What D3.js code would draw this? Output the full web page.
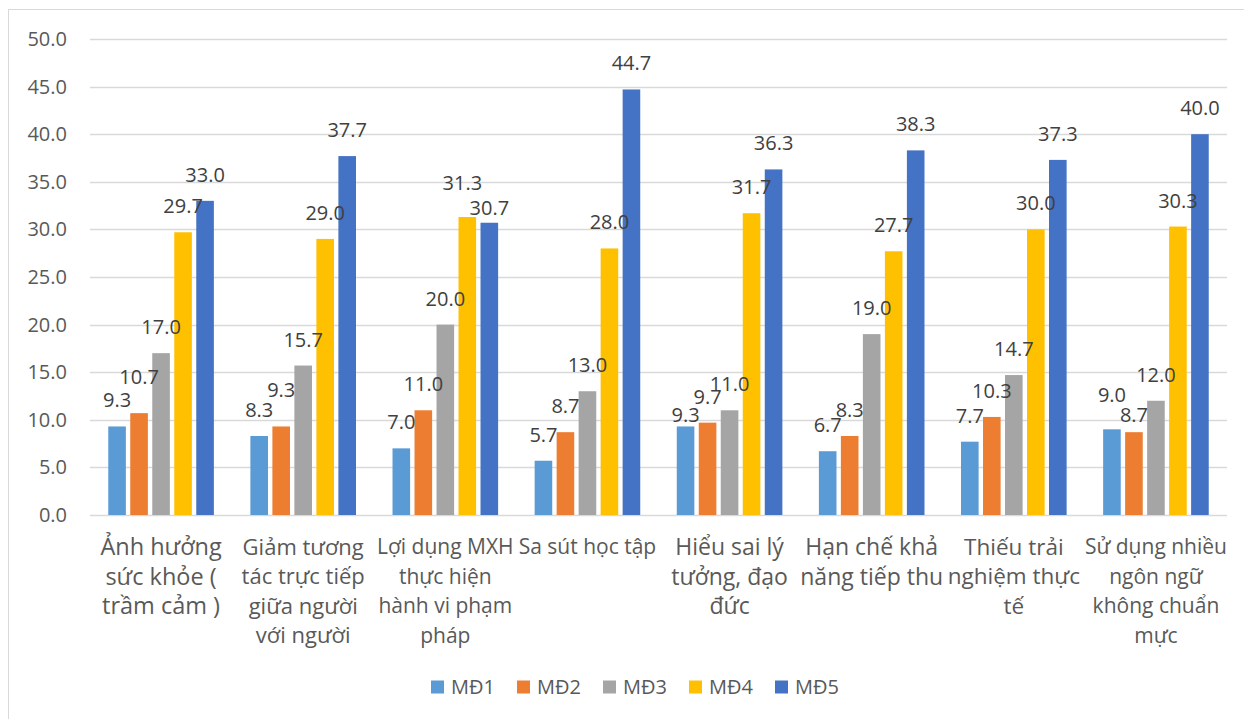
<!DOCTYPE html>
<html>
<head>
<meta charset="utf-8">
<script src="https://cdn.jsdelivr.net/npm/d3@7/dist/d3.min.js"></script>
<style>
  html, body { margin: 0; padding: 0; background: #fff; }
  svg { display: block; font-family: "Open Sans", "Noto Sans", sans-serif; }
</style>
</head>
<body>
<svg id="chart" width="1244" height="719"></svg>
<script>
// Category labels, already broken into the lines they are shown on
const categories = [
  ["Ảnh hưởng", "sức khỏe (", "trầm cảm )"],
  ["Giảm tương", "tác trực tiếp", "giữa người", "với người"],
  ["Lợi dụng MXH", "thực hiện", "hành vi phạm", "pháp"],
  ["Sa sút học tập"],
  ["Hiểu sai lý", "tưởng, đạo", "đức"],
  ["Hạn chế khả", "năng tiếp thu"],
  ["Thiếu trải", "nghiệm thực", "tế"],
  ["Sử dụng nhiều", "ngôn ngữ", "không chuẩn", "mực"]
];

const seriesNames = ["MĐ1", "MĐ2", "MĐ3", "MĐ4", "MĐ5"];
const seriesColors = ["#5b9bd5", "#ed7d31", "#a5a5a5", "#ffc000", "#4472c4"];

const md1 = [9.3, 8.3, 7.0, 5.7, 9.3, 6.7, 7.7, 9.0];
const md2 = [10.7, 9.3, 11.0, 8.7, 9.7, 8.3, 10.3, 8.7];
const md3 = [17.0, 15.7, 20.0, 13.0, 11.0, 19.0, 14.7, 12.0];
const md4 = [29.7, 29.0, 31.3, 28.0, 31.7, 27.7, 30.0, 30.3];
const md5 = [33.0, 37.7, 30.7, 44.7, 36.3, 38.3, 37.3, 40.0];

const yTicks = [0, 5, 10, 15, 20, 25, 30, 35, 40, 45, 50];

const seriesValues = [md1, md2, md3, md4, md5];

// value labels sit 26px above their bar; a few were dragged to stop them colliding
// key: "category,series" -> [dx, distance above bar top]
const labelNudge = {
  "0,1": [0, 36],
  "1,1": [0, 36],
  "2,3": [-5, 34],
  "2,4": [0, 15],
  "4,0": [0, 11],
  "7,0": [0, 34],
  "7,1": [0, 17]
};

// category label text sizes (px); some labels were set a little larger
const catFontSize = [23.5, 22, 21, 21, 23, 23, 22.5, 21];

const svg = d3.select("#chart");
const plot = { left: 90, right: 1227, top: 39, bottom: 515 };
const fontNum = "20px";

// chart area border
svg.append("rect")
  .attr("x", 8.5).attr("y", 9.5)
  .attr("width", 1240).attr("height", 720)
  .attr("fill", "none").attr("stroke", "#d9d9d9").attr("stroke-width", 1);

const catIdx = d3.range(categories.length);
const x0 = d3.scaleBand().domain(catIdx).range([plot.left, plot.right]).padding(0);
const x1 = d3.scaleBand().domain(d3.range(seriesNames.length)).range([-52.8, 52.8]).paddingInner(0.2);
const y = d3.scaleLinear().domain([0, 50]).range([plot.bottom, plot.top]);

// horizontal gridlines
svg.append("g")
  .selectAll("line")
  .data(yTicks)
  .join("line")
  .attr("x1", plot.left).attr("x2", plot.right)
  .attr("y1", d => Math.round(y(d)) + 0.5).attr("y2", d => Math.round(y(d)) + 0.5)
  .attr("stroke", "#d9d9d9").attr("stroke-width", 1.3);

// y axis tick labels
const yAxis = d3.axisLeft(y).tickValues(yTicks).tickFormat(d3.format(".1f")).tickSize(0).tickPadding(23);
const yg = svg.append("g").attr("transform", `translate(${plot.left},0)`).call(yAxis);
yg.select(".domain").remove();
yg.selectAll("text").attr("fill", "#595959").style("font-size", fontNum)
  .style("font-family", "'Open Sans', 'Noto Sans', sans-serif");

// bars and value labels
const groups = svg.append("g")
  .selectAll("g")
  .data(catIdx)
  .join("g")
  .attr("transform", i => `translate(${x0(i) + x0.bandwidth() / 2},0)`);

seriesValues.forEach((vals, s) => {
  groups.append("rect")
    .attr("x", x1(s))
    .attr("width", x1.bandwidth())
    .attr("y", i => y(vals[i]))
    .attr("height", i => y(0) - y(vals[i]))
    .attr("fill", seriesColors[s]);
});

seriesValues.forEach((vals, s) => {
  const nudge = i => labelNudge[`${i},${s}`] || [0, 26];
  groups.append("text")
    .attr("x", i => x1(s) + x1.bandwidth() / 2 + nudge(i)[0])
    .attr("y", i => y(vals[i]) - nudge(i)[1])
    .attr("dy", "0.35em")
    .attr("text-anchor", "middle")
    .attr("fill", "#404040")
    .style("font-size", fontNum)
    .text(i => d3.format(".1f")(vals[i]));
});

// category labels
const catLabels = svg.append("g")
  .selectAll("text")
  .data(catIdx)
  .join("text")
  .attr("text-anchor", "middle")
  .attr("fill", "#595959")
  .style("font-size", i => catFontSize[i] + "px");

catLabels.each(function (i) {
  const t = d3.select(this);
  categories[i].forEach((line, k) => {
    t.append("tspan")
      .attr("x", x0(i) + x0.bandwidth() / 2)
      .attr("y", 547 + k * 29.5)
      .attr("dy", "0.35em")
      .text(line);
  });
});

// legend
const legend = svg.append("g")
  .selectAll("g")
  .data(seriesNames)
  .join("g")
  .attr("transform", (d, k) => `translate(${431 + k * 86},687)`);

legend.append("rect")
  .attr("x", 0).attr("y", -6.5)
  .attr("width", 13).attr("height", 13)
  .attr("fill", (d, k) => seriesColors[k]);

legend.append("text")
  .attr("x", 20).attr("y", 0).attr("dy", "0.35em")
  .attr("fill", "#595959")
  .style("font-size", fontNum)
  .text(d => d);
</script>
</body>
</html>
